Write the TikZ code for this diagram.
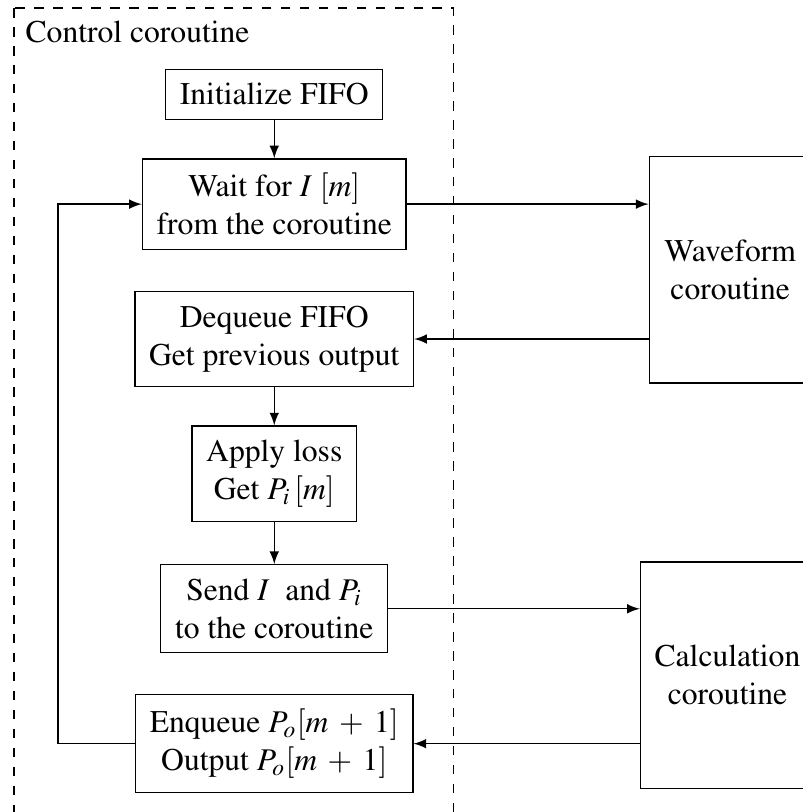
\documentclass[tikz,border=0pt]{standalone}
\usepackage[T1]{fontenc}
\usepackage{mathptmx}
\usetikzlibrary{positioning}
\medmuskip=6mu
\begin{document}
\begin{tikzpicture}[node distance={15mm}, >=latex, main/.style = {draw, rectangle, align=center, inner sep=4.5pt}, coro/.style = {main, minimum width=18mm, minimum height=25.2mm}]
        \useasboundingbox (0,0) rectangle (89.2mm,-90.3mm);
        % control coroutine frame
        \draw[dashed] (1.56mm,-0.9mm) rectangle (50.4mm,-95mm);
        \node[anchor=base west, inner sep=0pt] (ctrl) at (2.78mm,-4.78mm) {Control coroutine};
        \node[main] (init) at (30.5mm,-10.5mm) {Initialize FIFO};
        \node[main] (wait) [below of=init, node distance=12.2mm] {Wait for $I\ [m]$\\from the coroutine};
        \node[main] (deq) [below of=wait] {Dequeue FIFO\\Get previous output};
        \node[main] (loss) [below of=deq] {Apply loss\\Get $P_i\,[m]$};
        \node[main] (send) [below of=loss] {Send $I$\ \ and $P_i$\\to the coroutine};
        \node[main] (enq) [below of=send] {Enqueue $P_o[m+1]$\\Output $P_o[m+1]$};
        % other coroutines
        \node[coro] (wave) at (81.2mm,-30mm) {Waveform\\coroutine};
        \node[coro] (calc) at (80.9mm,-75.1mm) {Calculation\\coroutine};
        \coordinate (back) at (6.45mm,-50mm);
        \draw[->] (init) to (wait);
        \draw[->] (deq) to (loss);
        \draw[->] (loss) to (send);
        \draw[->] (wait.east) to (wait.east -| wave.west);
        \draw[->] (wave.west |- deq.east) to (deq.east);
        \draw[->] (send.east) to (send.east -| calc.west);
        \draw[->] (calc.west |- enq.east) to (enq.east);
        \draw[->] (enq.west) -| (back) |- (wait.west);
    \end{tikzpicture}
\end{document}
